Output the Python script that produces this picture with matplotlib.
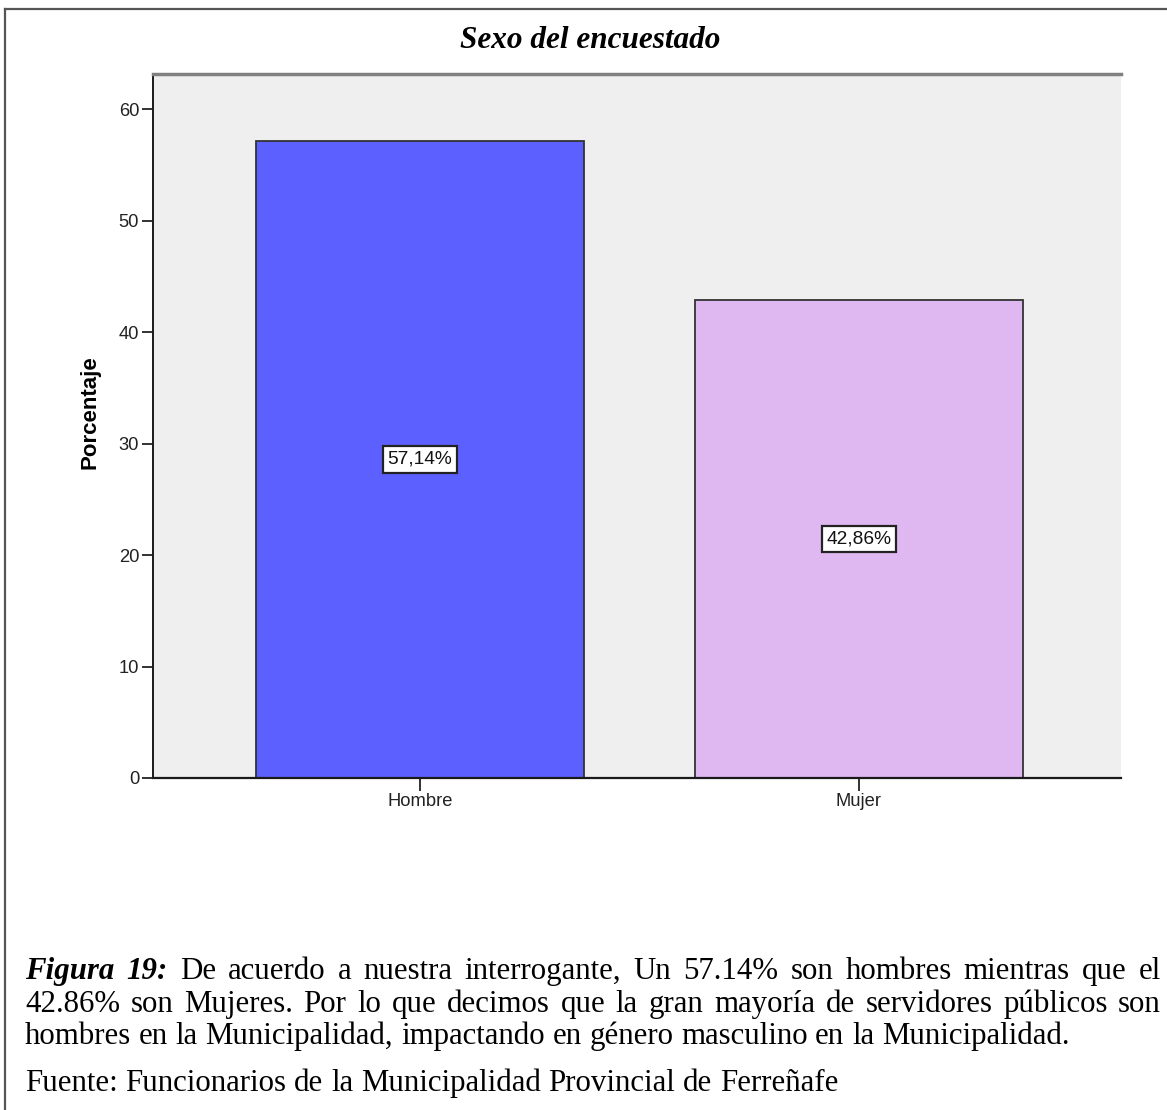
import matplotlib
matplotlib.use('Agg')
import matplotlib.pyplot as plt
from matplotlib.lines import Line2D

# ---------------- data ----------------
categories = ['Hombre', 'Mujer']
percentages = [57.14, 42.86]
value_labels = ['57,14%', '42,86%']
bar_colors = ['#5C60FF', '#DFB8F2']
yticks = [0, 10, 20, 30, 40, 50, 60]
title = 'Sexo del encuestado'
ylabel = 'Porcentaje'
caption_lead = 'Figura 19:'
caption_line1 = 'De acuerdo a nuestra interrogante, Un 57.14% son hombres mientras que el'
caption_line2 = '42.86% son Mujeres. Por lo que decimos que la gran mayoría de servidores públicos son'
caption_line3 = 'hombres en la Municipalidad, impactando en género masculino en la Municipalidad.'
source_line = 'Fuente: Funcionarios de la Municipalidad Provincial de Ferreñafe'

# ---------------- figure ----------------
W, H = 1167, 1110
fig = plt.figure(figsize=(W / 100, H / 100), dpi=100)
fig.patch.set_facecolor('white')


def fx(px):
    return px / W


def fy(py):
    return 1 - py / H


# outer frame (left + top)
fig.add_artist(Line2D([fx(5), fx(5)], [fy(9), fy(H + 5)], transform=fig.transFigure,
                      color='#555555', lw=1.6))
fig.add_artist(Line2D([fx(5), fx(W + 5)], [fy(9), fy(9)], transform=fig.transFigure,
                      color='#555555', lw=1.6))

# axes
ax = fig.add_axes([fx(153), fy(778), fx(1121) - fx(153), fy(74) - fy(778)])
ax.set_facecolor('#EFEFEF')
xpos = list(range(len(categories)))
ax.bar(xpos, percentages, width=0.747, color=bar_colors, edgecolor='#333333',
       linewidth=1.3, zorder=2)
ax.set_xlim(-0.608, 1.597)
ax.set_ylim(0, 63.15)
ax.set_yticks(yticks)
ax.set_yticklabels([str(t) for t in yticks])
ax.set_xticks(xpos)
ax.set_xticklabels(categories)

sans = 'Liberation Sans'
serif = 'Liberation Serif'
for lab in ax.get_yticklabels() + ax.get_xticklabels():
    lab.set_family(sans)
    lab.set_fontsize(13.2)
    lab.set_color('#222222')
ax.tick_params(axis='y', direction='out', length=8, width=1.3, pad=2, color='#222222')
ax.tick_params(axis='x', direction='out', length=9, width=1.3, pad=2, color='#222222')

for side in ['right']:
    ax.spines[side].set_visible(False)
ax.spines['top'].set_color('#808080')
ax.spines['top'].set_linewidth(2.5)
ax.spines['left'].set_color('#1a1a1a')
ax.spines['left'].set_linewidth(1.4)
ax.spines['bottom'].set_color('#1a1a1a')
ax.spines['bottom'].set_linewidth(1.6)

for xi, v, lab in zip(xpos, percentages, value_labels):
    ax.text(xi, v / 2, lab, ha='center', va='center', fontsize=13.8, family=sans,
            color='#111111', zorder=3,
            bbox=dict(boxstyle='square,pad=0.25', fc='white', ec='#222222', lw=1.6))

# title and y label
fig.text(fx(590), fy(40), title, ha='center', va='center', family=serif,
         style='italic', weight='bold', fontsize=22.5)
fig.text(fx(90), fy(412), ylabel, rotation=90, ha='center', va='center',
         family=sans, weight='bold', fontsize=16)

# caption text (justified lines)
renderer = fig.canvas.get_renderer()
cap_fs = 22.2
regular = dict(family=serif, fontsize=cap_fs)
bolditalic = dict(family=serif, fontsize=cap_fs, style='italic', weight='bold')


def place_line(segments, base_px, x0, x1, justify):
    texts = []
    for word, kw in segments:
        t = fig.text(fx(x0), fy(base_px), word, ha='left', va='baseline', **kw)
        texts.append(t)
    widths = [t.get_window_extent(renderer).width for t in texts]
    if justify and len(texts) > 1:
        gap = (x1 - x0 - sum(widths)) / (len(texts) - 1)
    else:
        gap = cap_fs * 100 / 72 * 0.25
    xcur = x0
    for t, wd in zip(texts, widths):
        t.set_x(fx(xcur))
        xcur += wd + gap


x_left, x_right = 25, 1161
seg1 = [(w, bolditalic) for w in caption_lead.split()] + [(w, regular) for w in caption_line1.split()]
seg2 = [(w, regular) for w in caption_line2.split()]
seg3 = [(w, regular) for w in caption_line3.split()]
seg4 = [(w, regular) for w in source_line.split()]
place_line(seg1, 979, x_left, x_right, True)
place_line(seg2, 1012, x_left, x_right, True)
place_line(seg3, 1044, x_left, x_right, False)
place_line(seg4, 1091, x_left, x_right, False)

fig.savefig('out.png', dpi=100, facecolor='white')
